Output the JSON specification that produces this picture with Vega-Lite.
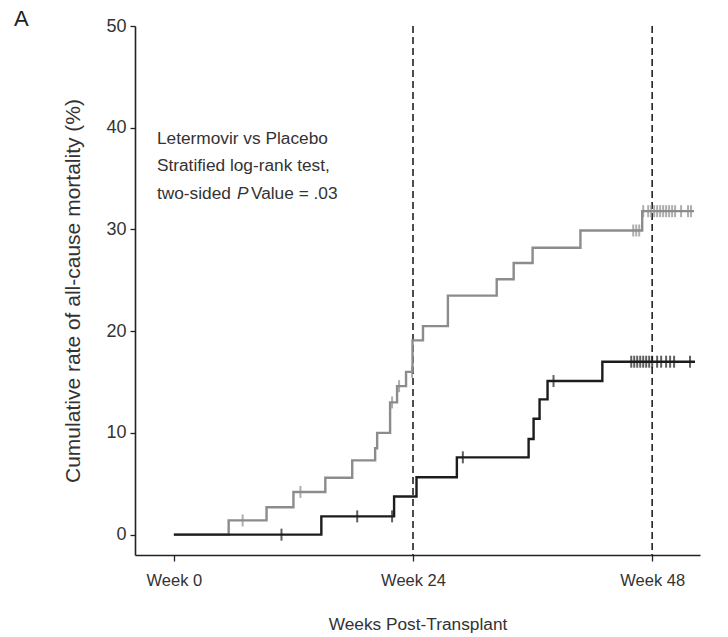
{
  "$schema": "https://vega.github.io/schema/vega-lite/v6.json",
  "width": 565,
  "height": 529,
  "autosize": {"type": "none"},
  "padding": {"left": 135, "top": 26, "right": 28, "bottom": 82},
  "background": "white",
  "config": {
    "view": {"stroke": null},
    "font": "Liberation Sans",
    "axis": {"grid": false, "domainColor": "#222", "domainWidth": 1.6, "tickColor": "#222", "tickWidth": 1.3, "labelColor": "#333", "titleColor": "#333", "labelFont": "Liberation Sans", "titleFont": "Liberation Sans", "titleFontWeight": "normal"}
  },
  "title": {"text": "A", "anchor": "start", "frame": "group", "orient": "top", "fontSize": 22, "fontWeight": "normal", "font": "Liberation Sans", "color": "#222", "dx": -121, "dy": 14, "offset": 0},
  "datasets": {
    "curves": [
      {"group": "Placebo", "week": 0, "pct": 0},
      {"group": "Placebo", "week": 5.5, "pct": 1.4},
      {"group": "Placebo", "week": 9.3, "pct": 2.7},
      {"group": "Placebo", "week": 12.0, "pct": 4.2},
      {"group": "Placebo", "week": 15.2, "pct": 5.6},
      {"group": "Placebo", "week": 17.9, "pct": 7.3},
      {"group": "Placebo", "week": 20.2, "pct": 8.5},
      {"group": "Placebo", "week": 20.4, "pct": 10.0},
      {"group": "Placebo", "week": 21.7, "pct": 13.0},
      {"group": "Placebo", "week": 22.4, "pct": 14.6},
      {"group": "Placebo", "week": 23.3, "pct": 16.0},
      {"group": "Placebo", "week": 23.95, "pct": 19.1},
      {"group": "Placebo", "week": 25.0, "pct": 20.5},
      {"group": "Placebo", "week": 27.5, "pct": 23.5},
      {"group": "Placebo", "week": 32.4, "pct": 25.1},
      {"group": "Placebo", "week": 34.1, "pct": 26.7},
      {"group": "Placebo", "week": 36.0, "pct": 28.2},
      {"group": "Placebo", "week": 40.8, "pct": 29.9},
      {"group": "Placebo", "week": 47.0, "pct": 31.8},
      {"group": "Placebo", "week": 52.2, "pct": 31.8},
      {"group": "Letermovir", "week": 0, "pct": 0},
      {"group": "Letermovir", "week": 14.8, "pct": 1.8},
      {"group": "Letermovir", "week": 22.1, "pct": 3.75},
      {"group": "Letermovir", "week": 24.35, "pct": 5.65},
      {"group": "Letermovir", "week": 28.4, "pct": 7.6},
      {"group": "Letermovir", "week": 35.6, "pct": 9.4},
      {"group": "Letermovir", "week": 36.1, "pct": 11.4},
      {"group": "Letermovir", "week": 36.7, "pct": 13.3},
      {"group": "Letermovir", "week": 37.5, "pct": 15.1},
      {"group": "Letermovir", "week": 43.0, "pct": 17.0},
      {"group": "Letermovir", "week": 52.3, "pct": 17.0}
    ],
    "censors": [
      {"group": "Placebo", "week": 6.9, "pct": 1.4},
      {"group": "Placebo", "week": 12.7, "pct": 4.2},
      {"group": "Placebo", "week": 21.9, "pct": 13.0},
      {"group": "Placebo", "week": 22.6, "pct": 14.6},
      {"group": "Placebo", "week": 23.9, "pct": 16.0},
      {"group": "Placebo", "week": 46.1, "pct": 29.9},
      {"group": "Placebo", "week": 46.4, "pct": 29.9},
      {"group": "Placebo", "week": 46.7, "pct": 29.9},
      {"group": "Placebo", "week": 47.1, "pct": 31.8},
      {"group": "Placebo", "week": 47.6, "pct": 31.8},
      {"group": "Placebo", "week": 47.9, "pct": 31.8},
      {"group": "Placebo", "week": 48.2, "pct": 31.8},
      {"group": "Placebo", "week": 48.5, "pct": 31.8},
      {"group": "Placebo", "week": 48.8, "pct": 31.8},
      {"group": "Placebo", "week": 49.1, "pct": 31.8},
      {"group": "Placebo", "week": 49.4, "pct": 31.8},
      {"group": "Placebo", "week": 49.7, "pct": 31.8},
      {"group": "Placebo", "week": 50.0, "pct": 31.8},
      {"group": "Placebo", "week": 50.3, "pct": 31.8},
      {"group": "Placebo", "week": 50.9, "pct": 31.8},
      {"group": "Placebo", "week": 51.6, "pct": 31.8},
      {"group": "Placebo", "week": 51.9, "pct": 31.8},
      {"group": "Letermovir", "week": 10.8, "pct": 0},
      {"group": "Letermovir", "week": 18.4, "pct": 1.8},
      {"group": "Letermovir", "week": 21.9, "pct": 1.8},
      {"group": "Letermovir", "week": 29.0, "pct": 7.6},
      {"group": "Letermovir", "week": 38.1, "pct": 15.1},
      {"group": "Letermovir", "week": 45.9, "pct": 17.0},
      {"group": "Letermovir", "week": 46.2, "pct": 17.0},
      {"group": "Letermovir", "week": 46.5, "pct": 17.0},
      {"group": "Letermovir", "week": 46.8, "pct": 17.0},
      {"group": "Letermovir", "week": 47.1, "pct": 17.0},
      {"group": "Letermovir", "week": 47.4, "pct": 17.0},
      {"group": "Letermovir", "week": 47.7, "pct": 17.0},
      {"group": "Letermovir", "week": 48.0, "pct": 17.0},
      {"group": "Letermovir", "week": 48.5, "pct": 17.0},
      {"group": "Letermovir", "week": 48.9, "pct": 17.0},
      {"group": "Letermovir", "week": 49.4, "pct": 17.0},
      {"group": "Letermovir", "week": 49.8, "pct": 17.0},
      {"group": "Letermovir", "week": 50.2, "pct": 17.0},
      {"group": "Letermovir", "week": 51.8, "pct": 17.0}
    ],
    "refs": [{"week": 24}, {"week": 48}],
    "one": [{}]
  },
  "layer": [
    {
      "data": {"name": "refs"},
      "mark": {"type": "rule", "strokeDash": [7, 4], "strokeWidth": 1.6, "color": "#222"},
      "encoding": {
        "x": {"field": "week", "type": "quantitative", "scale": {"domain": [-3.9, 52.8], "nice": false, "zero": false},
          "axis": {"values": [0, 24, 48], "labelExpr": "'Week ' + datum.value", "title": "Weeks Post-Transplant", "labelFontSize": 16.5, "titleFontSize": 17.3, "tickSize": 6, "labelPadding": 11, "titlePadding": 27}}
      }
    },
    {
      "data": {"name": "curves"},
      "mark": {"type": "line", "interpolate": "step-after", "strokeWidth": 2.4},
      "encoding": {
        "x": {"field": "week", "type": "quantitative"},
        "y": {"field": "pct", "type": "quantitative", "scale": {"domain": [-2, 50], "nice": false, "zero": false},
          "axis": {"values": [0, 10, 20, 30, 40, 50], "title": "Cumulative rate of all-cause mortality (%)", "labelFontSize": 18, "titleFontSize": 21, "tickSize": 5, "labelPadding": 4, "titlePadding": 22}},
        "color": {"field": "group", "type": "nominal", "scale": {"domain": ["Placebo", "Letermovir"], "range": ["#8c8c8c", "#1c1c1c"]}, "legend": null},
        "order": {"field": "week"}
      }
    },
    {
      "data": {"name": "censors"},
      "mark": {"type": "tick", "orient": "vertical", "size": 12, "thickness": 2},
      "encoding": {
        "x": {"field": "week", "type": "quantitative"},
        "y": {"field": "pct", "type": "quantitative"},
        "color": {"field": "group", "type": "nominal", "legend": null}
      }
    },
    {
      "data": {"name": "one"},
      "mark": {"type": "text", "text": ["Letermovir vs Placebo", "Stratified log-rank test,"], "align": "left", "baseline": "middle", "fontSize": 17.3, "lineHeight": 27.5, "color": "#333"},
      "encoding": {"x": {"datum": -1.7}, "y": {"datum": 38.9}}
    },
    {
      "data": {"name": "one"},
      "mark": {"type": "text", "text": "two-sided", "align": "left", "baseline": "middle", "fontSize": 17.3, "color": "#333"},
      "encoding": {"x": {"datum": -1.7}, "y": {"datum": 33.5}}
    },
    {
      "data": {"name": "one"},
      "mark": {"type": "text", "text": "P", "align": "left", "baseline": "middle", "fontSize": 17.3, "fontStyle": "italic", "color": "#333", "dx": 80},
      "encoding": {"x": {"datum": -1.7}, "y": {"datum": 33.5}}
    },
    {
      "data": {"name": "one"},
      "mark": {"type": "text", "text": "Value = .03", "align": "left", "baseline": "middle", "fontSize": 17.3, "color": "#333", "dx": 94},
      "encoding": {"x": {"datum": -1.7}, "y": {"datum": 33.5}}
    }
  ]
}
